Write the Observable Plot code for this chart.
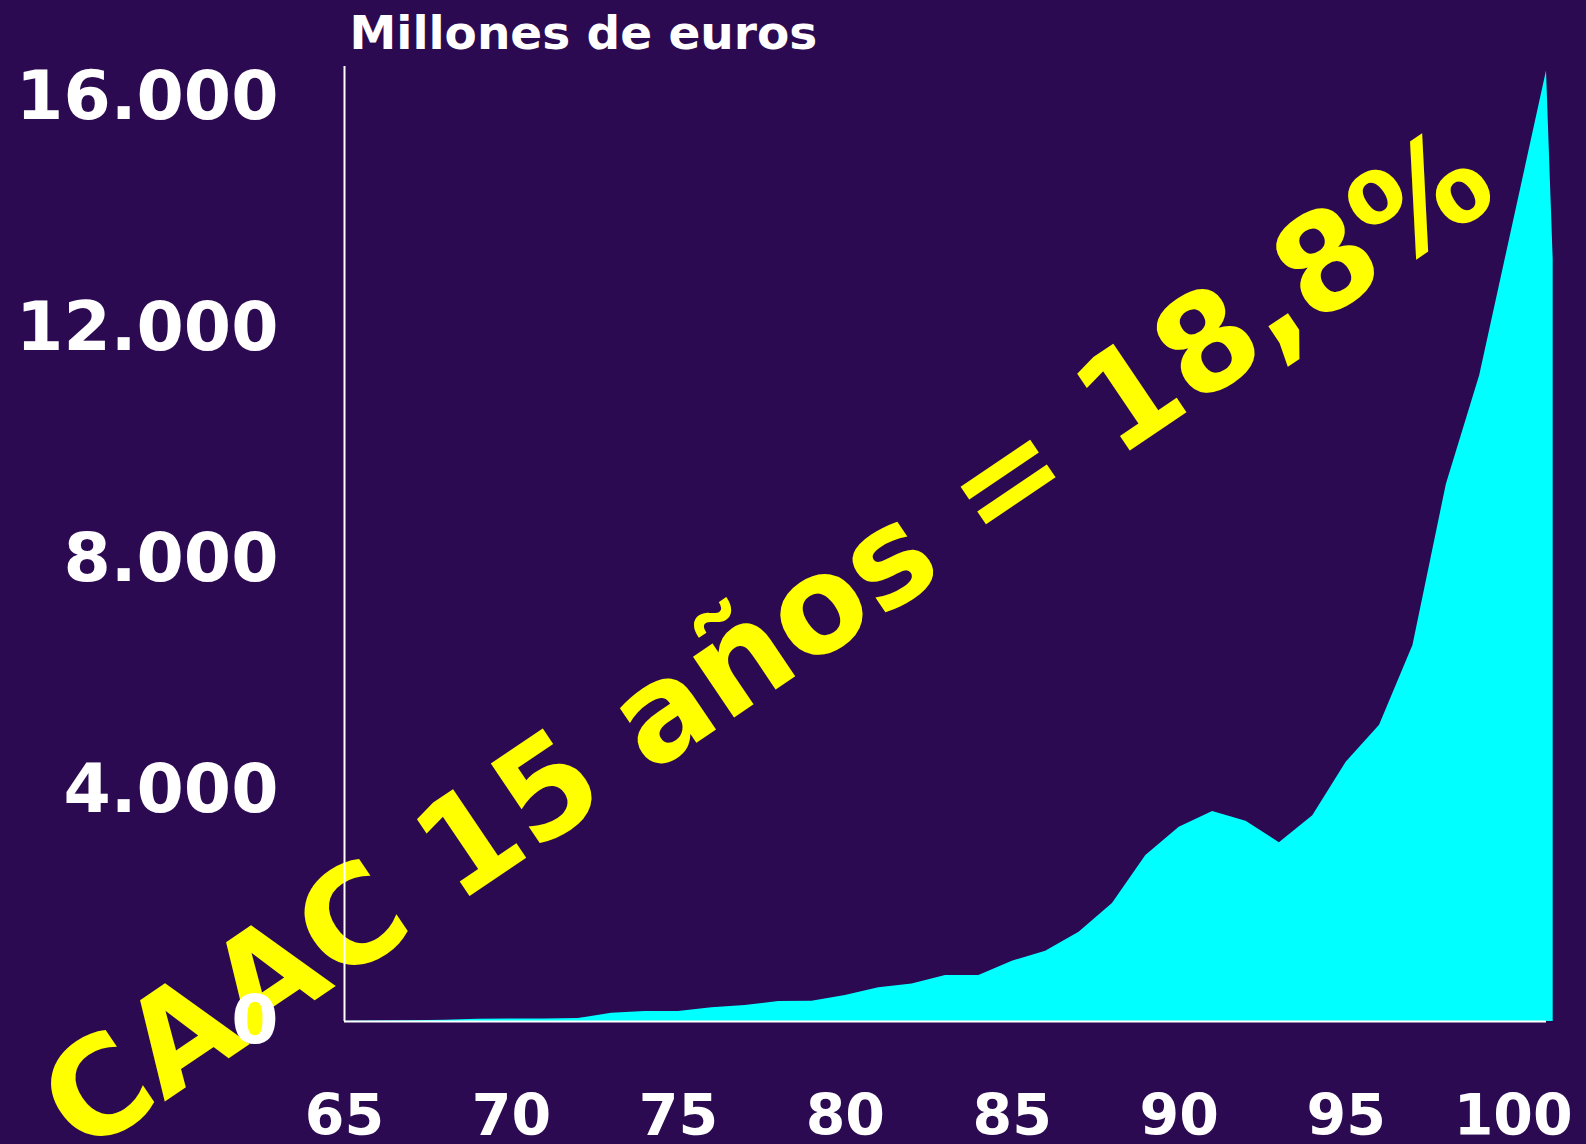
<!DOCTYPE html>
<html>
<head>
<meta charset="utf-8">
<script src="https://cdn.jsdelivr.net/npm/d3@7"></script>
<script src="https://cdn.jsdelivr.net/npm/@observablehq/plot@0.6"></script>
<style>
  html, body { margin: 0; padding: 0; background: #2c0a52; overflow: hidden; }
  #chart svg { display: block; }
  #chart text { font-family: "DejaVu Sans", sans-serif; font-weight: bold; }
</style>
</head>
<body>
<div id="chart"></div>
<script>
// ---- data ----
const years = [65, 66, 67, 68, 69, 70, 71, 72, 73, 74, 75, 76, 77, 78, 79, 80, 81, 82, 83, 84,
               85, 86, 87, 88, 89, 90, 91, 92, 93, 94, 95, 96, 97, 98, 99, 101, 101.2];
const values = [5, 10, 15, 20, 40, 45, 45, 50, 145, 175, 175, 240, 275, 345, 350, 450, 585, 650, 795, 795,
                1045, 1215, 1545, 2045, 2875, 3365, 3635, 3470, 3095, 3565, 4490, 5130, 6510, 9300, 11190, 16460, 13200];
const xTicks = [65, 70, 75, 80, 85, 90, 95, 100];
const yTicks = [0, 4000, 8000, 12000, 16000];
const titleText = ["Millones de euros"];
const annotationText = ["CAAC 15 años = 18,8%"];

const data = years.map((y, i) => ({year: y, value: values[i]}));
const fmt = d => d3.format(",")(d).replace(/,/g, ".");

const chart = Plot.plot({
  width: 1586,
  height: 1144,
  marginLeft: 344,
  marginRight: 40,
  marginTop: 66,
  marginBottom: 123,
  style: {background: "#2c0a52", color: "white", fontFamily: "DejaVu Sans", overflow: "visible"},
  x: {domain: [65, 101]},
  y: {domain: [0, 16540]},
  marks: [
    Plot.text(annotationText, {
      text: d => d, frameAnchor: "top-left", dx: 424, dy: 576, rotate: -34,
      fontSize: 134, fontWeight: "bold", fill: "#ffff00",
      textAnchor: "middle", lineAnchor: "middle"
    }),
    Plot.areaY(data, {x: "year", y: "value", fill: "#00ffff", curve: "linear"}),
    Plot.ruleX([65], {stroke: "white", strokeWidth: 2}),
    Plot.ruleY([0], {stroke: "white", strokeWidth: 2}),
    Plot.axisY({ticks: yTicks, tickSize: 0, tickPadding: 66, tickFormat: fmt,
                fontSize: 68, fontWeight: "bold", fill: "white", label: null}),
    Plot.axisX({ticks: xTicks, tickSize: 0, tickPadding: 73, tickFormat: d => String(d),
                fontSize: 57, fontWeight: "bold", fill: "white", label: null}),
    Plot.text(titleText, {
      text: d => d, frameAnchor: "top-left", dx: 5, dy: -33,
      fontSize: 47, fontWeight: "bold", fill: "white",
      textAnchor: "start", lineAnchor: "middle"
    })
  ]
});
document.getElementById("chart").appendChild(chart);
</script>
</body>
</html>
